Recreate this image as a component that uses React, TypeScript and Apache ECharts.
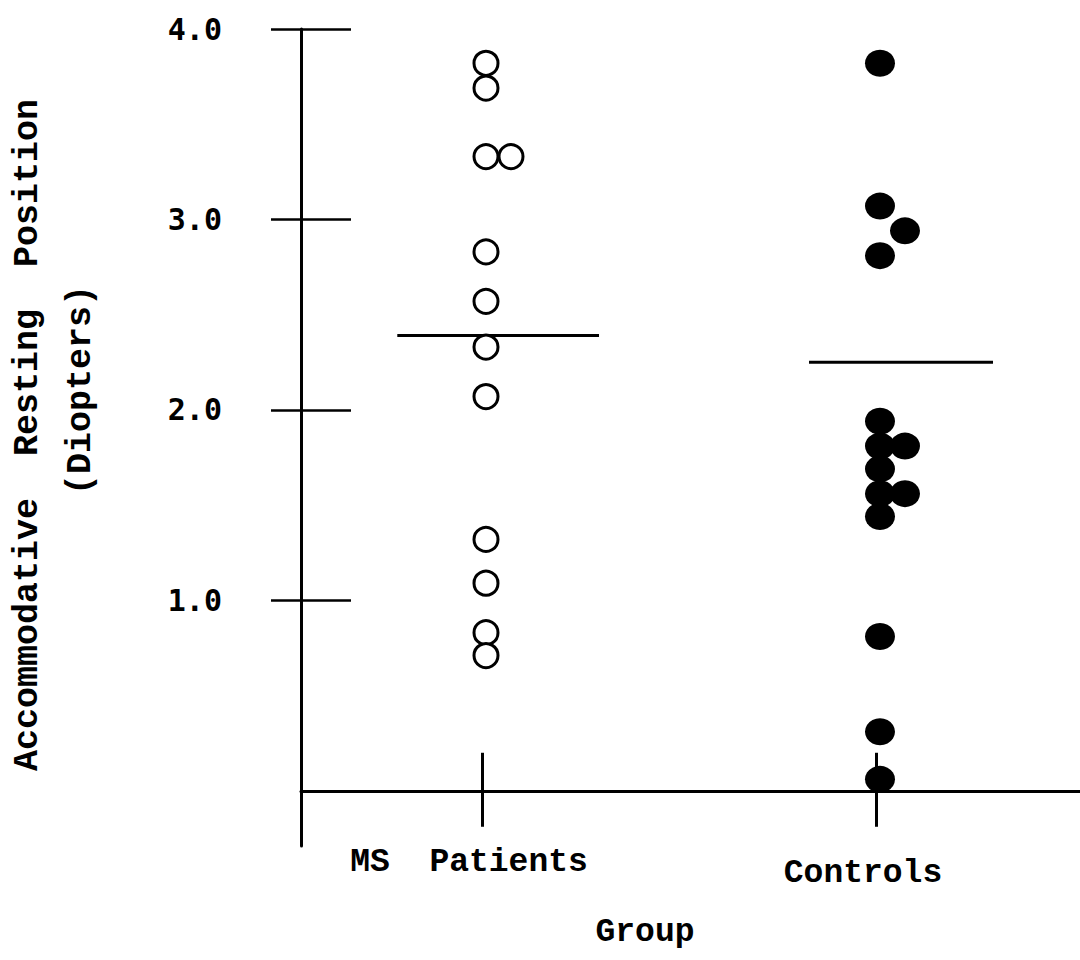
import React, { useEffect, useRef } from "react";
import * as echarts from "echarts";

// ---- data ----
const groups = ["MS  Patients", "Controls"];
const yTicks = [1, 2, 3, 4];
const msValues = [3.82, 3.69, 3.33, 3.33, 2.83, 2.57, 2.33, 2.07, 1.32, 1.09, 0.83, 0.71];
const msColumn = [0, 0, 0, 1, 0, 0, 0, 0, 0, 0, 0, 0];
const ctrlValues = [3.82, 3.07, 2.94, 2.81, 1.94, 1.81, 1.81, 1.69, 1.56, 1.56, 1.44, 0.81, 0.31, 0.06];
const ctrlColumn = [0, 0, 1, 0, 0, 0, 1, 0, 0, 1, 0, 0, 0, 0];
const groupMeans = [2.39, 2.25];
const yTitle1 = "Accommodative  Resting  Position";
const yTitle2 = "(Diopters)";
const xTitle = "Group";

const MONO = "'Liberation Mono', 'DejaVu Sans Mono', monospace";

export default function App() {
  const ref = useRef<HTMLDivElement>(null);

  useEffect(() => {
    if (!ref.current) return;
    const chart = echarts.init(ref.current, null, { renderer: "svg" });

    const dodge = (col: number) => [4 + col * 25, 0];

    const option: any = {
      animation: false,
      backgroundColor: "#ffffff",
      grid: { left: 301, right: 0, top: 29, bottom: 114, containLabel: false },
      xAxis: [
        {
          type: "value",
          position: "bottom",
          min: -0.4594,
          max: 1.5178,
          axisLine: { show: true, onZero: true, lineStyle: { color: "#000", width: 3 } },
          axisTick: { show: true, customValues: [0, 1], length: 36, lineStyle: { color: "#000", width: 3 } },
          axisLabel: {
            show: true,
            customValues: [0, 1],
            margin: 0,
            formatter: (v: number) => {
              const i = Math.round(v);
              return i === 0 ? `{m|${groups[0]}}` : `{c|${groups[1]}}`;
            },
            rich: {
              m: { fontFamily: MONO, fontWeight: "bold", fontSize: 33, color: "#000", padding: [0, 26, 0, 0] },
              c: { fontFamily: MONO, fontWeight: "bold", fontSize: 33, color: "#000", padding: [11, 26, 0, 0] },
            },
          },
          splitLine: { show: false },
        },
        {
          type: "value",
          position: "bottom",
          min: -0.4594,
          max: 1.5178,
          axisLine: { show: true, onZero: true, lineStyle: { color: "#000", width: 0, opacity: 0 } },
          axisTick: { show: true, inside: true, customValues: [0, 1], length: 38, lineStyle: { color: "#000", width: 3 } },
          axisLabel: { show: false },
          splitLine: { show: false },
        },
      ],
      yAxis: [
        {
          type: "value",
          position: "left",
          min: -0.29,
          max: 4,
          axisLine: { show: true, onZero: false, lineStyle: { color: "#000", width: 3 } },
          axisTick: { show: true, customValues: yTicks, length: 30, lineStyle: { color: "#000", width: 2.5 } },
          axisLabel: {
            show: true,
            customValues: yTicks,
            margin: 79,
            formatter: (v: number) => v.toFixed(1),
            fontFamily: "'DejaVu Sans Mono', monospace",
            fontWeight: "bold",
            fontSize: 30,
            color: "#000",
          },
          splitLine: { show: false },
        },
        {
          type: "value",
          position: "left",
          min: -0.29,
          max: 4,
          axisLine: { show: true, onZero: false, lineStyle: { color: "#000", width: 0, opacity: 0 } },
          axisTick: { show: true, inside: true, customValues: yTicks, length: 50, lineStyle: { color: "#000", width: 2.5 } },
          axisLabel: { show: false },
          splitLine: { show: false },
        },
      ],
      graphic: [
        {
          type: "text",
          x: 28,
          y: 435,
          rotation: Math.PI / 2,
          style: {
            text: yTitle1,
            font: `bold 35px ${MONO}`,
            fill: "#000",
            textAlign: "center",
            textVerticalAlign: "middle",
            align: "center",
            verticalAlign: "middle",
          },
        },
        {
          type: "text",
          x: 81,
          y: 390,
          rotation: Math.PI / 2,
          style: {
            text: yTitle2,
            font: `bold 35px ${MONO}`,
            fill: "#000",
            textAlign: "center",
            textVerticalAlign: "middle",
            align: "center",
            verticalAlign: "middle",
          },
        },
        {
          type: "text",
          x: 645,
          y: 932,
          style: {
            text: xTitle,
            font: `bold 33px ${MONO}`,
            fill: "#000",
            textAlign: "center",
            textVerticalAlign: "middle",
            align: "center",
            verticalAlign: "middle",
          },
        },
      ],
      series: [
        {
          type: "line",
          xAxisIndex: 0,
          yAxisIndex: 0,
          symbol: "none",
          lineStyle: { color: "#000", width: 3 },
          data: [
            [0 - 0.215, groupMeans[0]],
            [0 + 0.297, groupMeans[0]],
          ],
          z: 3,
        },
        {
          type: "line",
          xAxisIndex: 0,
          yAxisIndex: 0,
          symbol: "none",
          lineStyle: { color: "#000", width: 3 },
          data: [
            [1 - 0.17, groupMeans[1]],
            [1 + 0.297, groupMeans[1]],
          ],
          z: 3,
        },
        {
          type: "scatter",
          xAxisIndex: 0,
          yAxisIndex: 0,
          symbol: "circle",
          symbolSize: 24,
          itemStyle: { color: "#fff", borderColor: "#000", borderWidth: 3, opacity: 1 },
          data: msValues.map((v, i) => ({ value: [0, v], symbolOffset: dodge(msColumn[i]) })),
          z: 4,
        },
        {
          type: "scatter",
          xAxisIndex: 0,
          yAxisIndex: 0,
          symbol: "circle",
          symbolSize: [30, 27],
          itemStyle: { color: "#000", opacity: 1 },
          data: ctrlValues.map((v, i) => ({ value: [1, v], symbolOffset: dodge(ctrlColumn[i]) })),
          z: 4,
        },
      ],
    };

    chart.setOption(option);
    return () => chart.dispose();
  }, []);

  return (
    <div
      ref={ref}
      style={{ position: "fixed", left: 0, top: 0, width: 1080, height: 960, background: "#fff" }}
    />
  );
}
